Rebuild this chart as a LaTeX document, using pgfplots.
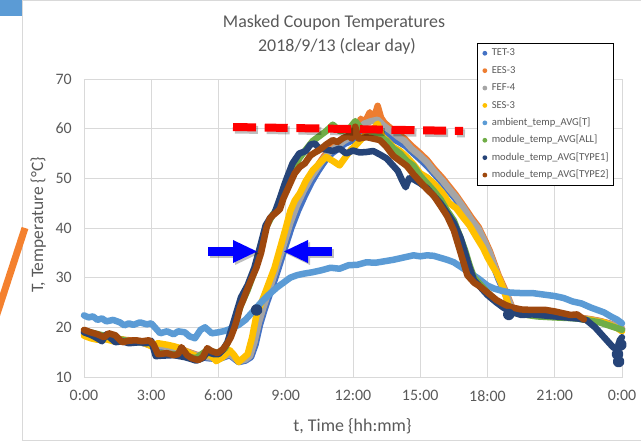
\documentclass[border=0pt]{standalone}
\usepackage{pgfplots}
\pgfplotsset{compat=1.18}
\usepackage{fontspec}
\setmainfont{Carlito}
\definecolor{txt}{HTML}{595959}
\definecolor{gridc}{HTML}{D9D9D9}
\definecolor{ctet}{HTML}{4472C4}
\definecolor{cees}{HTML}{ED7D31}
\definecolor{cfef}{HTML}{A5A5A5}
\definecolor{cses}{HTML}{FFC000}
\definecolor{camb}{HTML}{5B9BD5}
\definecolor{call}{HTML}{70AD47}
\definecolor{ctone}{HTML}{264478}
\definecolor{cttwo}{HTML}{9E480E}
\definecolor{slideblue}{HTML}{5B9BD5}
\definecolor{slash}{HTML}{F4812F}
\pgfplotsset{mycircle/.style={legend image code/.code={\fill[#1, draw=none] (0bp,0bp) circle (2.4bp);}}}
\begin{document}
\begin{tikzpicture}
\path[use as bounding box] (-84bp,-64bp) rectangle (557bp,377bp);
\begin{scope}[x=1bp,y=1bp]
\fill[slideblue] (-84,361) rectangle (-62,377);
\draw[gridc, line width=0.8bp] (-62,-64) -- (-62,376.6) -- (557,376.6);
\draw[gridc, line width=0.8bp] (-62,-63.4) -- (557,-63.4);
\draw[slash, line width=7bp] (-59,149) -- (-88,60);
\end{scope}
\begin{axis}[at={(0bp,0bp)}, anchor=south west, scale only axis,
  width=538bp, height=298bp,
  xmin=0, xmax=24, ymin=10, ymax=70,
  xtick={0,3,6,9,12,15,18,21,24},
  xticklabels={0:00,3:00,6:00,9:00,12:00,15:00,18:00,21:00,0:00},
  ytick={10,20,30,40,50,60,70},
  /pgf/number format/assume math mode=true,
  tick style={draw=none},
  grid=major, major grid style={gridc, line width=0.8bp},
  axis line style={draw=gridc, line width=0.8bp},
  ticklabel style={font=\fontsize{16}{19}\selectfont, text=txt},
  xticklabel style={anchor=north, inner sep=0pt, yshift=-13bp},
  yticklabel style={anchor=east, inner sep=0pt, xshift=-12bp},
  clip=false,
  every axis plot/.append style={line width=6.5bp, line join=round, line cap=round},
  legend style={at={(0.9851,1.1208)}, anchor=north east, draw=black, line width=0.7bp, fill=white,
     font=\fontsize{10.6}{12}\selectfont, text=txt, row sep=7.6bp, inner xsep=5bp, inner ysep=5bp,
     nodes={inner sep=0pt, text height=7.6bp, text depth=2.2bp},
     /tikz/every odd column/.style={column sep=4.5bp}},
  legend cell align=left,
]
% TET-3
\addplot[ctet, forget plot] coordinates {(0,18.8)(0.5,18.0)(1.0,17.8)(1.5,17.5)(2.0,17.2)(2.5,17.0)(3.0,16.4)(3.5,16.0)(4.0,15.6)(4.5,15.0)(5.0,14.2)(5.5,13.8)(6.0,13.6)(6.5,14.4)(6.9,13.0)(7.2,13.3)(7.45,14.0)(7.65,16.5)(7.85,20.5)(8.05,23.5)(8.35,27.5)(8.65,31.5)(8.95,35.8)(9.25,40.0)(9.55,43.5)(9.85,46.5)(10.15,49.2)(10.45,51.5)(10.75,53.5)(11.05,55.0)(11.35,56.0)(11.65,57.0)(11.95,57.6)(12.25,58.3)(12.55,59.0)(12.85,59.5)(13.15,59.5)(13.45,58.8)(13.75,58.0)(14.05,57.3)(14.35,56.5)(14.65,55.2)(15.0,53.8)(15.3,52.5)(15.6,51.0)(16.0,49.0)(16.3,47.3)(16.6,45.7)(17.0,43.2)(17.3,41.0)(17.6,39.2)(17.9,36.5)(18.1,34.5)(18.3,32.0)(18.5,29.6)(18.7,27.6)(18.9,25.6)(19.1,23.6)(19.4,22.8)(19.8,22.6)(20.3,22.3)(21.0,22.2)(21.5,22.0)(22.0,21.8)(22.5,21.6)(23.0,21.2)(23.5,20.6)(24.0,19.6)};
% EES-3
\addplot[cees, forget plot] coordinates {(0,18.9)(0.5,18.1)(1.0,17.9)(1.5,17.6)(2.0,17.4)(2.5,17.2)(3.0,16.6)(3.5,16.3)(4.0,15.9)(4.5,15.3)(5.0,14.5)(5.5,14.1)(6.0,13.9)(6.5,14.7)(6.9,13.3)(7.2,13.6)(7.4,14.3)(7.6,17.2)(7.8,21.2)(8.0,24.2)(8.3,28.3)(8.6,32.5)(8.9,36.8)(9.2,41.3)(9.5,44.9)(9.8,47.8)(10.1,50.3)(10.4,52.4)(10.7,54.4)(11.0,55.9)(11.3,57.0)(11.6,58.0)(11.9,58.8)(12.2,60.2)(12.35,62.0)(12.5,61.0)(12.75,63.3)(12.9,61.6)(13.1,64.6)(13.25,62.2)(13.4,61.2)(13.7,60.0)(14.0,59.0)(14.3,58.0)(14.6,56.6)(15.0,55.0)(15.3,53.7)(15.6,52.0)(16.0,50.0)(16.3,48.3)(16.6,46.6)(17.0,44.0)(17.3,42.0)(17.6,40.2)(17.9,37.4)(18.1,35.4)(18.3,32.9)(18.5,30.4)(18.7,28.4)(18.9,26.3)(19.1,24.0)(19.4,23.1)(19.8,22.9)(20.3,22.6)(21.0,22.4)(21.5,22.2)(22.0,22.0)(22.5,21.7)(23.0,21.3)(23.5,20.7)(24.0,19.8)};
% FEF-4
\addplot[cfef, forget plot] coordinates {(0,18.6)(0.5,17.8)(1.0,17.6)(1.5,17.4)(2.0,17.2)(2.5,17.0)(3.0,16.4)(3.5,16.2)(4.0,15.8)(4.5,15.2)(5.0,14.4)(5.5,14.0)(6.0,13.8)(6.5,14.6)(6.9,13.2)(7.2,13.5)(7.4,14.2)(7.6,17.0)(7.8,21.0)(8.0,24.0)(8.3,28.0)(8.6,32.2)(8.9,36.5)(9.2,41.0)(9.5,44.6)(9.8,47.5)(10.1,50.0)(10.4,52.0)(10.7,54.0)(11.0,55.5)(11.3,56.5)(11.6,57.5)(11.9,58.3)(12.2,59.5)(12.5,61.0)(12.8,61.5)(13.1,61.8)(13.4,60.5)(13.7,59.5)(14.0,58.4)(14.3,57.5)(14.6,56.0)(15.0,54.5)(15.3,53.2)(15.6,51.5)(16.0,49.5)(16.3,47.8)(16.6,46.2)(17.0,43.6)(17.3,41.5)(17.6,39.8)(17.9,37.0)(18.1,35.0)(18.3,32.5)(18.5,30.0)(18.7,28.0)(18.9,26.0)(19.1,23.8)(19.4,23.0)(19.8,22.8)(20.3,22.5)(21.0,22.3)(21.5,22.1)(22.0,21.9)(22.5,21.6)(23.0,21.2)(23.5,20.6)(24.0,19.7)};
% SES-3
\addplot[cses, forget plot] coordinates {(0,18.3)(0.3,17.8)(0.6,17.5)(1.0,17.6)(1.3,17.2)(1.7,17.6)(2.0,17.0)(2.5,17.2)(2.8,16.6)(3.0,16.2)(3.3,16.8)(3.7,16.5)(4.0,16.2)(4.3,15.8)(4.6,15.0)(5.0,14.2)(5.3,14.0)(5.6,14.6)(5.9,13.2)(6.2,14.0)(6.5,15.4)(6.7,14.4)(6.9,13.0)(7.1,13.8)(7.3,14.6)(7.5,18.0)(7.7,22.6)(8.0,26.0)(8.2,28.4)(8.5,32.0)(8.75,36.0)(9.0,40.0)(9.2,43.4)(9.4,45.5)(9.63,47.0)(9.9,49.5)(10.2,51.6)(10.5,53.0)(10.8,54.3)(11.1,53.5)(11.4,52.6)(11.7,54.5)(11.9,55.7)(12.2,57.0)(12.6,59.0)(12.9,59.8)(13.1,61.0)(13.3,58.5)(13.6,57.2)(13.8,56.3)(14.1,55.5)(14.4,54.3)(14.7,52.8)(15.0,51.0)(15.3,50.2)(15.6,49.0)(16.0,47.0)(16.3,45.0)(16.6,44.0)(16.9,42.2)(17.2,40.5)(17.5,38.2)(17.8,36.0)(18.0,34.1)(18.2,32.5)(18.4,31.0)(18.6,29.0)(18.8,26.5)(19.0,23.5)(19.3,22.8)(19.6,22.6)(19.9,22.6)(20.3,22.4)(20.7,22.2)(21.0,22.3)(21.4,22.0)(21.8,22.0)(22.2,21.7)(22.6,21.5)(22.9,21.2)(23.2,21.0)(23.5,20.4)(23.8,19.8)(24.0,19.2)};
% ambient
\addplot[camb, forget plot] coordinates {(0,22.4)(0.2,22.0)(0.4,22.2)(0.6,21.5)(0.8,21.8)(1.0,21.2)(1.3,21.5)(1.6,21.0)(1.8,20.4)(2.0,20.8)(2.2,20.5)(2.5,21.0)(2.8,20.6)(3.0,20.8)(3.2,19.8)(3.4,18.8)(3.7,19.2)(4.0,18.6)(4.2,19.2)(4.5,19.0)(4.7,18.2)(4.95,17.8)(5.2,19.5)(5.4,20.0)(5.7,18.8)(6.0,19.0)(6.3,19.3)(6.6,19.8)(6.9,20.5)(7.2,21.5)(7.5,23.0)(7.8,24.5)(8.0,25.5)(8.3,26.8)(8.6,28.0)(8.9,29.0)(9.2,30.0)(9.5,30.5)(9.8,30.8)(10.2,31.1)(10.6,31.5)(11.0,32.0)(11.4,31.8)(11.8,32.5)(12.2,32.6)(12.6,33.1)(13.0,33.0)(13.4,33.3)(13.8,33.6)(14.1,33.9)(14.4,34.2)(14.7,34.5)(15.0,34.3)(15.3,34.5)(15.6,34.4)(15.9,34.0)(16.2,33.6)(16.5,33.1)(16.8,32.2)(17.2,31.0)(17.6,29.8)(18.0,28.4)(18.3,27.8)(18.6,27.4)(19.0,27.0)(19.5,26.9)(20.0,26.9)(20.5,26.6)(21.0,26.3)(21.4,25.9)(21.8,25.2)(22.2,24.8)(22.6,24.0)(22.9,23.5)(23.2,23.0)(23.5,22.2)(23.8,21.5)(24.0,20.8)};
% module ALL
\addplot[call, forget plot] coordinates {(0,19.3)(1,18.2)(2,17.2)(3,16.8)(3.3,14.8)(4,14.6)(5,13.8)(5.5,15.4)(6,14.8)(6.3,15.8)(6.6,19.0)(7.0,24.5)(7.3,27.5)(7.7,32.5)(8.1,40.0)(8.4,42.5)(8.7,44.5)(9.0,48.0)(9.3,51.5)(9.6,54.0)(9.9,55.8)(10.2,57.5)(10.5,58.5)(10.8,59.5)(11.1,60.8)(11.4,59.5)(11.8,59.8)(12.1,61.5)(12.4,59.8)(12.8,59.5)(13.2,58.5)(13.5,57.5)(13.8,56.0)(14.1,55.0)(14.4,53.5)(14.7,52.5)(15.0,50.5)(15.3,49.0)(15.6,47.5)(15.9,45.8)(16.2,43.5)(16.5,41.5)(16.8,38.0)(17.0,35.5)(17.2,32.5)(17.4,30.0)(17.7,28.5)(18.0,27.0)(18.4,25.2)(18.8,24.2)(19.2,23.2)(19.6,22.6)(20.2,22.2)(21,22.0)(22,21.8)(23,21.0)(24,19.5)};
% module TYPE1
\addplot[ctone, forget plot] coordinates {(0,19.0)(0.3,18.5)(0.6,17.8)(0.8,17.2)(1.0,18.6)(1.2,17.8)(1.4,17.0)(1.7,17.2)(2.0,16.8)(2.5,17.0)(2.8,16.8)(3.0,17.3)(3.2,14.2)(3.5,14.3)(4.0,14.4)(4.5,14.0)(4.8,13.6)(5.0,13.3)(5.3,13.8)(5.5,15.0)(5.8,14.6)(6.0,14.6)(6.2,15.5)(6.4,17.0)(6.6,20.0)(6.8,23.0)(7.0,26.0)(7.3,28.5)(7.6,32.0)(7.9,37.0)(8.1,40.5)(8.3,42.0)(8.5,43.0)(8.7,45.5)(9.0,49.5)(9.3,53.0)(9.6,55.0)(9.9,55.5)(10.1,56.8)(10.3,57.0)(10.5,56.0)(10.8,55.8)(11.1,55.5)(11.4,56.0)(11.7,55.0)(12.0,55.6)(12.3,55.2)(12.6,55.3)(12.9,55.5)(13.2,54.8)(13.5,54.0)(13.8,52.5)(14.0,51.5)(14.2,49.5)(14.35,48.2)(14.5,50.0)(14.7,49.8)(15.0,49.0)(15.3,48.0)(15.6,46.5)(15.9,45.0)(16.2,43.0)(16.5,41.0)(16.8,38.0)(17.0,35.0)(17.2,32.0)(17.4,29.5)(17.7,28.0)(18.0,26.5)(18.4,25.0)(18.7,24.0)(19.0,23.2)(19.5,22.5)(20.0,22.6)(20.5,22.4)(21.0,22.2)(21.5,22.0)(22.0,21.8)(22.4,21.5)(22.8,20.0)(23.1,18.5)(23.4,17.0)(23.6,16.0)(23.8,15.5)(23.9,17.4)(24.0,18.0)};
\addplot[ctone, only marks, mark=*, mark size=2.6bp, forget plot] coordinates {(7.7,23.5)(18.95,22.6)(23.85,13.1)(23.8,14.6)(23.95,16.5)};
% module TYPE2
\addplot[cttwo, forget plot] coordinates {(0,19.5)(0.3,19.0)(0.6,18.6)(0.9,18.0)(1.1,18.8)(1.4,18.4)(1.7,17.0)(2.0,17.3)(2.3,17.4)(2.6,17.2)(2.9,17.4)(3.1,16.6)(3.3,14.6)(3.7,14.8)(4.0,14.4)(4.2,14.6)(4.35,16.0)(4.6,14.4)(4.8,13.8)(5.1,13.4)(5.3,14.0)(5.5,15.8)(5.7,15.2)(5.95,14.8)(6.2,15.6)(6.4,16.8)(6.55,18.0)(6.7,19.8)(6.85,22.0)(6.96,24.0)(7.1,25.5)(7.27,27.5)(7.5,30.0)(7.7,32.1)(7.9,35.0)(8.15,40.2)(8.3,42.0)(8.44,42.6)(8.6,43.2)(8.74,43.8)(8.9,46.0)(9.2,49.0)(9.4,51.0)(9.63,52.3)(9.85,53.0)(10.1,54.6)(10.3,55.2)(10.5,55.7)(10.8,56.8)(11.1,57.7)(11.3,57.3)(11.55,58.1)(11.8,58.6)(11.95,58.0)(12.1,60.4)(12.25,58.0)(12.6,58.3)(12.9,58.0)(13.2,57.7)(13.5,56.3)(13.8,54.5)(14.1,53.5)(14.4,52.5)(14.7,50.8)(15.0,49.3)(15.3,47.8)(15.6,46.5)(15.9,44.5)(16.2,42.4)(16.5,39.5)(16.8,35.0)(17.1,30.5)(17.4,29.0)(17.7,28.1)(18.0,27.0)(18.4,25.5)(18.8,24.5)(19.1,24.0)(19.5,23.6)(20.0,23.5)(20.6,23.5)(21.0,23.2)(21.4,22.8)(21.7,22.5)(22.0,22.6)(22.3,21.6)};
\addlegendimage{mycircle=ctet}\addlegendentry{TET-3}
\addlegendimage{mycircle=cees}\addlegendentry{EES-3}
\addlegendimage{mycircle=cfef}\addlegendentry{FEF-4}
\addlegendimage{mycircle=cses}\addlegendentry{SES-3}
\addlegendimage{mycircle=camb}\addlegendentry{ambient\_temp\_AVG[T]}
\addlegendimage{mycircle=call}\addlegendentry{module\_temp\_AVG[ALL]}
\addlegendimage{mycircle=ctone}\addlegendentry{module\_temp\_AVG[TYPE1]}
\addlegendimage{mycircle=cttwo}\addlegendentry{module\_temp\_AVG[TYPE2]}
\end{axis}
\begin{scope}[x=1bp,y=1bp]
% titles
\node[anchor=base, text=txt, font=\fontsize{18}{21}\selectfont, inner sep=0pt] at (250,350) {Masked Coupon Temperatures};
\node[anchor=base, text=txt, font=\fontsize{18}{21}\selectfont, inner sep=0pt] at (253,326) {2018/9/13 (clear day)};
\node[anchor=base, text=txt, font=\fontsize{18}{21}\selectfont, inner sep=0pt] at (268.5,-54) {t, Time \{hh:mm\}};
\node[anchor=base, rotate=90, text=txt, font=\fontsize{17.5}{21}\selectfont, inner sep=0pt] at (-41,152) {T, Temperature \{°C\}};
% red dashed line
\draw[black, opacity=0.25, line width=8bp, dash pattern=on 23bp off 8.7bp] (151,247.5) -- (381,243.5);
\draw[red, line width=8bp, dash pattern=on 23bp off 8.7bp] (149,250) -- (379,246);
% blue arrows (shadow then arrow)
\fill[black, opacity=0.25] (126,119) rectangle (151,128);
\fill[black, opacity=0.25] (151,112) -- (151,135) -- (175,123.5) -- cycle;
\fill[black, opacity=0.25] (226,119) rectangle (250,128);
\fill[black, opacity=0.25] (226,112) -- (226,135) -- (202,123.5) -- cycle;
\fill[blue] (124,121) rectangle (149.5,130);
\fill[blue] (149,114) -- (149,137) -- (173,125.5) -- cycle;
\fill[blue] (223.5,121) rectangle (248,130);
\fill[blue] (224,114) -- (224,137) -- (200,125.5) -- cycle;
\end{scope}
\end{tikzpicture}
\end{document}
